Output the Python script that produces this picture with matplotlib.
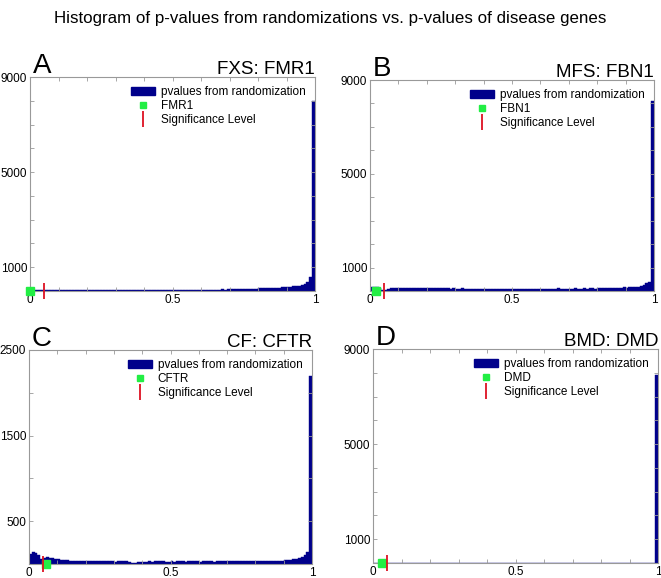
import numpy as np
import matplotlib
matplotlib.use("Agg")
import matplotlib.pyplot as plt
from matplotlib.lines import Line2D
from matplotlib.patches import Patch

plt.rcParams['font.family'] = ['Liberation Sans', 'DejaVu Sans']

# histogram counts, 100 bins of width 0.01 on [0,1]
counts_A = [60, 45, 40, 40, 38, 42, 40, 38, 40, 42,
            40, 38, 42, 40, 38, 40, 42, 40, 38, 40,
            40, 42, 38, 40, 40, 42, 40, 38, 42, 40,
            42, 40, 44, 40, 42, 44, 42, 40, 44, 42,
            44, 46, 44, 42, 46, 48, 46, 44, 46, 48,
            48, 50, 48, 52, 50, 52, 54, 52, 54, 56,
            56, 58, 56, 60, 58, 62, 60, 64, 62, 66,
            70, 72, 76, 80, 84, 88, 92, 96, 100, 104,
            110, 114, 118, 124, 128, 134, 140, 146, 152, 160,
            170, 180, 195, 210, 230, 260, 300, 360, 600, 8000]
counts_B = [150, 160, 150, 140, 60, 60, 90, 130, 140, 135,
            130, 140, 130, 135, 125, 130, 140, 130, 125, 130,
            120, 125, 130, 120, 115, 120, 110, 115, 105, 110,
            100, 105, 110, 100, 95, 100, 105, 100, 95, 100,
            90, 100, 95, 100, 90, 95, 100, 95, 90, 100,
            95, 100, 90, 95, 100, 95, 90, 100, 95, 100,
            100, 95, 105, 100, 95, 100, 110, 100, 95, 105,
            100, 105, 110, 100, 105, 110, 105, 115, 110, 105,
            110, 115, 120, 115, 125, 130, 120, 140, 130, 150,
            140, 160, 170, 180, 190, 220, 260, 330, 400, 8100]
counts_C = [120, 140, 130, 110, 60, 70, 80, 70, 65, 60,
            55, 50, 45, 45, 40, 40, 38, 35, 35, 35,
            35, 33, 33, 30, 30, 32, 35, 38, 35, 30,
            28, 30, 30, 32, 30, 25, 15, 15, 25, 28,
            28, 28, 30, 28, 30, 30, 32, 30, 28, 28,
            30, 28, 30, 32, 30, 28, 30, 30, 32, 30,
            28, 30, 32, 30, 30, 28, 30, 32, 30, 30,
            30, 32, 30, 30, 32, 34, 30, 32, 34, 30,
            32, 34, 36, 34, 36, 38, 36, 40, 38, 40,
            42, 45, 48, 55, 60, 70, 85, 110, 140, 2200]
counts_D = [0, 0, 0, 0, 0, 0, 0, 0, 0, 0,
            0, 0, 0, 0, 0, 0, 0, 0, 0, 0,
            0, 0, 0, 0, 0, 0, 0, 0, 0, 0,
            0, 0, 0, 0, 0, 0, 0, 0, 0, 0,
            0, 0, 0, 0, 0, 0, 0, 0, 0, 0,
            0, 0, 0, 0, 0, 0, 0, 0, 0, 0,
            0, 0, 0, 0, 0, 0, 0, 0, 0, 0,
            0, 0, 0, 0, 0, 0, 0, 0, 0, 0,
            0, 0, 0, 0, 0, 0, 0, 0, 0, 0,
            0, 0, 0, 0, 0, 0, 0, 0, 0, 7900]

letters = ['A', 'B', 'C', 'D']
titles = ['FXS: FMR1', 'MFS: FBN1', 'CF: CFTR', 'BMD: DMD']
genes = ['FMR1', 'FBN1', 'CFTR', 'DMD']
gene_pvals = [0.0, 0.02, 0.06, 0.03]
sig_level = 0.05
ymax = [9000, 9000, 2500, 9000]
ystep = [1000, 1000, 500, 1000]
ylabels = [[1000, 5000, 9000], [1000, 5000, 9000], [500, 1500, 2500], [1000, 5000, 9000]]
all_counts = [counts_A, counts_B, counts_C, counts_D]

W, H = 661, 578
# axes boxes in pixels: left, top, right, bottom
boxes = [(30, 77, 315, 291), (370, 80, 654, 291), (29, 350, 312, 564), (373, 349, 658, 563)]

navy = '#00008B'
green = '#22EE44'
red = '#DD1122'
grey = '#999999'

fig = plt.figure(figsize=(W / 100, H / 100), dpi=100)
fig.text(0.5, 1 - 18 / H, 'Histogram of p-values from randomizations vs. p-values of disease genes',
         ha='center', va='center', fontsize=12.2)

edges = np.linspace(0, 1, 101)
for i in range(4):
    l, t, r, b = boxes[i]
    ax = fig.add_axes([l / W, 1 - b / H, (r - l) / W, (b - t) / H])
    ax.bar(edges[:-1], all_counts[i], width=0.01, align='edge', color=navy, edgecolor=navy,
           linewidth=0.3, label='pvalues from randomization')
    ax.plot([gene_pvals[i]], [0], 's', color=green, markersize=5.5, clip_on=False, zorder=5,
            label=genes[i])
    ax.plot([sig_level], [0], '|', color=red, markersize=12, markeredgewidth=1.3, clip_on=False,
            zorder=6, label='Significance Level')
    ax.set_xlim(0, 1)
    ax.set_ylim(0, ymax[i])
    xt = np.round(np.arange(0, 1.01, 0.1), 1)
    ax.set_xticks(xt)
    ax.set_xticklabels(['0' if x == 0 else '0.5' if x == 0.5 else '1' if x == 1 else '' for x in xt])
    yt = np.arange(0, ymax[i] + 1, ystep[i])
    ax.set_yticks(yt)
    ax.set_yticklabels([str(v) if v in ylabels[i] else '' for v in yt])
    ax.tick_params(direction='in', length=3, width=0.6, color=grey, labelsize=8.5,
                   top=True, right=True, pad=2)
    for s in ax.spines.values():
        s.set_color(grey)
        s.set_linewidth(0.8)
    handles = [Patch(facecolor=navy, edgecolor=navy),
               Line2D([], [], marker='s', color=green, linestyle='none', markersize=4.5),
               Line2D([], [], marker='|', color=red, linestyle='none', markersize=11,
                      markeredgewidth=1.3)]
    ax.legend(handles, ['pvalues from randomization', genes[i], 'Significance Level'],
              loc='upper right', frameon=False, fontsize=8.5, handlelength=2.0,
              handletextpad=0.5, labelspacing=0.15, borderaxespad=0.4)
    fig.text((l + 3) / W, 1 - (t - 4) / H, letters[i], ha='left', va='baseline', fontsize=20)
    fig.text(r / W, 1 - (t - 3) / H, titles[i], ha='right', va='baseline', fontsize=13.5)

fig.savefig('out.png', dpi=100)
